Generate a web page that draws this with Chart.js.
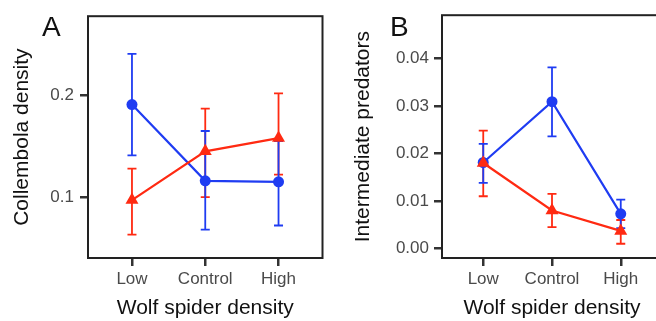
<!DOCTYPE html>
<html>
<head>
<meta charset="utf-8">
<script src="https://cdn.jsdelivr.net/npm/chart.js@4"></script>
<style>
  html, body { margin:0; padding:0; background:#fff; overflow:hidden; width:656px; height:321px; }
  canvas { position:absolute; top:0; }
  #chartA { left:0; }
  #chartB { left:330px; }
  .panel { position:absolute; font-family:"Liberation Sans", Arial, sans-serif; font-size:28px; line-height:28px; color:#111; }
</style>
</head>
<body>
<canvas id="chartA" width="330" height="321"></canvas>
<canvas id="chartB" width="340" height="321"></canvas>
<div class="panel" style="left:42px;top:13px">A</div>
<div class="panel" style="left:390px;top:13px">B</div>
<script>
// categories on x
const categories = ["Low", "Control", "High"];

// panel A - Collembola density
const collBlue = [0.191, 0.116, 0.115];
const collBlueLo = [0.141, 0.068, 0.072];
const collBlueHi = [0.241, 0.165, 0.155];
const collRed = [0.097, 0.145, 0.158];
const collRedLo = [0.063, 0.100, 0.122];
const collRedHi = [0.128, 0.187, 0.202];
const ticksA = [0.1, 0.2];

// panel B - Intermediate predators
const predBlue = [0.0181, 0.0309, 0.0073];
const predBlueLo = [0.0138, 0.0236, 0.0043];
const predBlueHi = [0.0220, 0.0381, 0.0103];
const predRed = [0.0180, 0.0080, 0.0037];
const predRedLo = [0.0110, 0.0045, 0.0010];
const predRedHi = [0.0248, 0.0115, 0.0060];
const ticksB = [0, 0.01, 0.02, 0.03, 0.04];

const BLUE = "#1f3cf2";
const RED = "#ff2a12";
const FONT = "'Liberation Sans', Arial, sans-serif";

// error bars, drawn under the points
const errorBars = {
  id: "errorBars",
  beforeDatasetsDraw(chart) {
    const ctx = chart.ctx;
    const xs = chart.scales.x, ys = chart.scales.y;
    chart.data.datasets.forEach(ds => {
      ctx.save();
      ctx.strokeStyle = ds.borderColor;
      ctx.lineWidth = 1.8;
      ds.lo.forEach((lo, i) => {
        const x = xs.getPixelForValue(i + 1);
        const y1 = ys.getPixelForValue(lo);
        const y2 = ys.getPixelForValue(ds.hi[i]);
        ctx.beginPath();
        ctx.moveTo(x, y1); ctx.lineTo(x, y2);
        ctx.moveTo(x - 4.5, y1); ctx.lineTo(x + 4.5, y1);
        ctx.moveTo(x - 4.5, y2); ctx.lineTo(x + 4.5, y2);
        ctx.stroke();
      });
      ctx.restore();
    });
  }
};

// full box round the plot area
const frame = {
  id: "frame",
  afterDraw(chart) {
    const a = chart.chartArea, ctx = chart.ctx;
    ctx.save();
    ctx.strokeStyle = "#222";
    ctx.lineWidth = 2;
    ctx.strokeRect(a.left, a.top, a.right - a.left, a.bottom - a.top);
    ctx.restore();
  }
};

function toPts(vals) { return vals.map((v, i) => ({ x: i + 1, y: v })); }

function makeChart(id, opt) {
  return new Chart(document.getElementById(id), {
    type: "line",
    data: {
      datasets: [
        { data: toPts(opt.red), lo: opt.redLo, hi: opt.redHi, borderColor: RED, backgroundColor: RED,
          borderWidth: 2.2, pointStyle: "triangle", pointRadius: 7.5, pointBorderWidth: 0 },
        { data: toPts(opt.blue), lo: opt.blueLo, hi: opt.blueHi, borderColor: BLUE, backgroundColor: BLUE,
          borderWidth: 2.2, pointStyle: "circle", pointRadius: 5.5, pointBorderWidth: 0 }
      ]
    },
    options: {
      responsive: false,
      animation: false,
      layout: { padding: { top: 15, right: opt.padRight, left: 0, bottom: 0 } },
      plugins: { legend: { display: false }, tooltip: { enabled: false } },
      scales: {
        x: {
          type: "linear", min: 0.4, max: 3.6,
          afterBuildTicks: s => { s.ticks = categories.map((c, i) => ({ value: i + 1 })); },
          afterFit: s => { s.height = 63; },
          ticks: { callback: v => categories[v - 1], color: "#4a4a4a", font: { family: FONT, size: 17 }, padding: 3 },
          grid: { drawOnChartArea: false, drawTicks: true, tickLength: 8, color: "#333", lineWidth: 2.5 },
          border: { display: false },
          title: { display: true, text: "Wolf spider density", color: "#111",
                   font: { family: FONT, size: 21 }, padding: { top: 0, bottom: 0 } }
        },
        y: {
          min: opt.yMin, max: opt.yMax,
          afterBuildTicks: s => { s.ticks = opt.ticks.map(v => ({ value: v })); },
          afterFit: s => { s.width = opt.yWidth; },
          ticks: { callback: v => v.toFixed(opt.dec), color: "#4a4a4a", font: { family: FONT, size: 17 }, padding: opt.tickPad },
          grid: { drawOnChartArea: false, drawTicks: true, tickLength: 8, color: "#333", lineWidth: 2.5 },
          border: { display: false },
          title: { display: true, text: opt.yTitle, color: "#111",
                   font: { family: FONT, size: 21 }, padding: { top: opt.titlePad, bottom: 0 } }
        }
      }
    },
    plugins: [errorBars, frame]
  });
}

makeChart("chartA", {
  blue: collBlue, blueLo: collBlueLo, blueHi: collBlueHi,
  red: collRed, redLo: collRedLo, redHi: collRedHi,
  ticks: ticksA, dec: 1, yMin: 0.040, yMax: 0.278,
  yTitle: "Collembola density", yWidth: 88, titlePad: 10, padRight: 7, tickPad: 6
});

makeChart("chartB", {
  blue: predBlue, blueLo: predBlueLo, blueHi: predBlueHi,
  red: predRed, redLo: predRedLo, redHi: predRedHi,
  ticks: ticksB, dec: 2, yMin: -0.002, yMax: 0.0491,
  yTitle: "Intermediate predators", yWidth: 112, titlePad: 21, padRight: 8, tickPad: 5
});
</script>
</body>
</html>
